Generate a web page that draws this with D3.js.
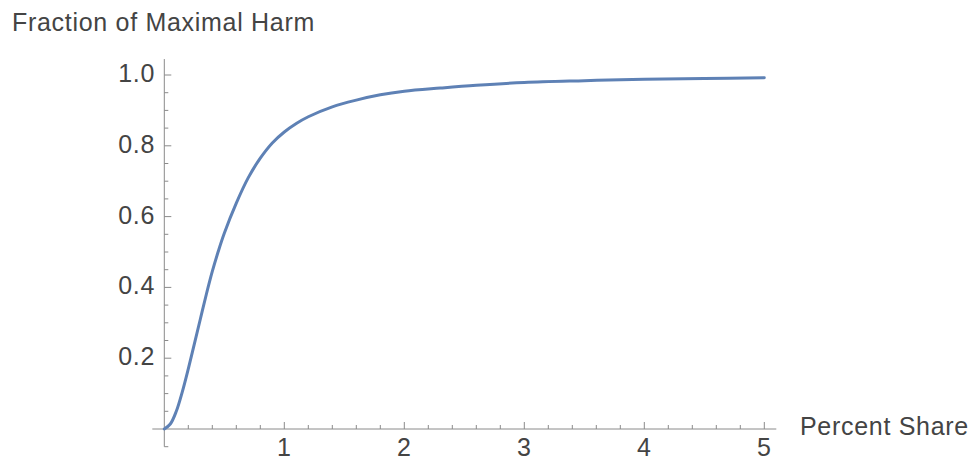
<!DOCTYPE html>
<html lang="en">
<head>
<meta charset="utf-8">
<title>Fraction of Maximal Harm</title>
<script src="https://cdn.jsdelivr.net/npm/d3@7"></script>
<style>
  body { margin: 0; background: #fff; }
  text { font-family: "Liberation Sans", Arial, sans-serif; fill: #444; letter-spacing: 0.7px; }
</style>
</head>
<body>
<script>
// curve values
var shareX = [0, 0.05, 0.1, 0.15, 0.2, 0.25, 0.3, 0.35, 0.4, 0.45, 0.5, 0.6, 0.7, 0.8, 0.9, 1.0, 1.1,
              1.2, 1.4, 1.6, 1.8, 2.0, 2.3, 2.6, 3.0, 3.5, 4.0, 4.5, 5.0];
var harmY = [0, 0.014, 0.05, 0.105, 0.17, 0.24, 0.31, 0.38, 0.445, 0.502, 0.553, 0.638, 0.71, 0.765, 0.808, 0.839, 0.863,
             0.882, 0.91, 0.929, 0.944, 0.954, 0.963, 0.971, 0.979, 0.984, 0.988, 0.990, 0.992];

var xMajor = [1, 2, 3, 4, 5];
var yMajor = [0.2, 0.4, 0.6, 0.8, 1.0];
var yLabels = ["0.2", "0.4", "0.6", "0.8", "1.0"];

var w = 972, h = 462;

var x = d3.scaleLinear().domain([0, 5]).range([164.3, 764.3]);
var y = d3.scaleLinear().domain([0, 1]).range([429, 75]);

var svg = d3.select("body").append("svg")
  .attr("width", w).attr("height", h);

var axisColor = "#8a8a8a";

// axis lines
svg.append("line")
  .attr("x1", x(-0.1)).attr("x2", x(5.1))
  .attr("y1", y(0)).attr("y2", y(0))
  .attr("stroke", axisColor).attr("stroke-width", 1);
svg.append("line")
  .attr("x1", x(0)).attr("x2", x(0))
  .attr("y1", y(-0.05)).attr("y2", y(1.045))
  .attr("stroke", axisColor).attr("stroke-width", 1);

// x ticks: minor every 0.2, major every 1
var xMinor = d3.range(1, 26).map(function(i) { return i * 0.2; });
svg.selectAll(".xt").data(xMinor).enter().append("line")
  .attr("x1", function(d) { return x(d); }).attr("x2", function(d) { return x(d); })
  .attr("y1", y(0))
  .attr("y2", function(d) { return y(0) - (Math.abs(d - Math.round(d)) < 1e-6 ? 7 : 4); })
  .attr("stroke", axisColor).attr("stroke-width", 1);

// y ticks: minor every 0.05, major every 0.2
var yMinor = d3.range(-1, 21).map(function(i) { return i * 0.05; }).filter(function(d) { return Math.abs(d) > 1e-6; });
svg.selectAll(".yt").data(yMinor).enter().append("line")
  .attr("y1", function(d) { return y(d); }).attr("y2", function(d) { return y(d); })
  .attr("x1", x(0))
  .attr("x2", function(d) { return x(0) + (Math.abs(d * 5 - Math.round(d * 5)) < 1e-6 ? 7 : 4); })
  .attr("stroke", axisColor).attr("stroke-width", 1);

// tick labels
svg.selectAll(".xl").data(xMajor).enter().append("text")
  .attr("x", function(d) { return x(d); })
  .attr("y", 456)
  .attr("text-anchor", "middle")
  .attr("font-size", 25)
  .text(function(d) { return d; });

svg.selectAll(".yl").data(yMajor).enter().append("text")
  .attr("x", 155)
  .attr("y", function(d) { return y(d) + 7; })
  .attr("text-anchor", "end")
  .attr("font-size", 25)
  .text(function(d, i) { return yLabels[i]; });

// axis titles
svg.append("text")
  .attr("x", 12).attr("y", 31)
  .attr("font-size", 25)
  .text("Fraction of Maximal Harm");

svg.append("text")
  .attr("x", 800).attr("y", 435)
  .attr("font-size", 25)
  .text("Percent Share");

// curve
var pts = shareX.map(function(d, i) { return [d, harmY[i]]; });
var line = d3.line()
  .x(function(d) { return x(d[0]); })
  .y(function(d) { return y(d[1]); })
  .curve(d3.curveCatmullRom.alpha(0.5));

svg.append("path")
  .datum(pts)
  .attr("d", line)
  .attr("fill", "none")
  .attr("stroke", "#5e81b5")
  .attr("stroke-width", 3)
  .attr("stroke-linecap", "round");
</script>
</body>
</html>
